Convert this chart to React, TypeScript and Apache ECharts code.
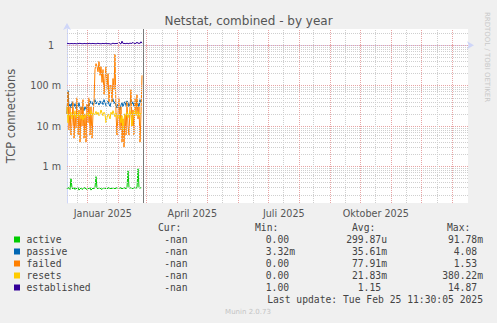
import React, { useEffect, useRef } from "react";
import * as echarts from "echarts";

// ---------- data ----------
const seriesNames = ["active", "passive", "failed", "resets", "established"];
const seriesColors = ["#00CC00", "#0066B3", "#FF8000", "#FFCC00", "#330099"];

const dataStart = Date.UTC(2024, 11, 11, 17, 0); // first daily sample
const DAY = 86400000;

const active = [
  0.00028, 0.0003, 0.00029, 0.00027, 0.0005, 0.00029, 0.00028, 0.0003, 0.00027, 0.00029,
  0.00028, 0.0003, 0.00026, 0.00028, 0.00029, 0.00027, 0.00028, 0.0003, 0.00029, 0.00028,
  0.00027, 0.00029, 0.00028, 0.0003, 0.00026, 0.00028, 0.00029, 0.00028, 0.0003, 0.00056,
  0.00029, 0.00028, 0.0003, 0.00029, 0.00028, 0.00027, 0.00029, 0.0003, 0.00028, 0.00029,
  0.00028, 0.00029, 0.0003, 0.00028, 0.00029, 0.00028, 0.0003, 0.00029, 0.00028, 0.00029,
  0.0003, 0.00029, 0.00028, 0.0003, 0.00029, 0.00028, 0.00029, 0.0003, 0.00029, 0.00028,
  0.0003, 0.00078, 0.0003, 0.00029, 0.0003, 0.00029, 0.00028, 0.0003, 0.00029, 0.0003,
  0.00029, 0.00088, 0.0003, 0.00029, 0.0003, 0.0003,
];
const passive = [
  0.02, 0.075, 0.03, 0.035, 0.028, 0.04, 0.032, 0.03, 0.036, 0.027,
  0.033, 0.03, 0.038, 0.028, 0.025, 0.03, 0.027, 0.024, 0.03, 0.026,
  0.028, 0.035, 0.03, 0.042, 0.036, 0.04, 0.033, 0.038, 0.045, 0.035,
  0.04, 0.038, 0.033, 0.042, 0.036, 0.04, 0.034, 0.045, 0.038, 0.032,
  0.036, 0.042, 0.035, 0.03, 0.038, 0.04, 0.046, 0.036, 0.04, 0.032,
  0.028, 0.035, 0.03, 0.025, 0.033, 0.038, 0.03, 0.036, 0.04, 0.032,
  0.042, 0.038, 0.03, 0.036, 0.045, 0.035, 0.04, 0.03, 0.038, 0.034,
  0.042, 0.036, 0.03, 0.045, 0.038, 0.04,
];
const failed = [
  0.02, 0.07, 0.008, 0.03, 0.006, 0.012, 0.04, 0.005, 0.02, 0.009,
  0.05, 0.006, 0.025, 0.004, 0.03, 0.01, 0.045, 0.005, 0.02, 0.004,
  0.035, 0.012, 0.05, 0.006, 0.03, 0.005, 0.02, 0.04, 0.25, 0.35,
  0.3, 0.22, 0.4, 0.18, 0.3, 0.12, 0.25, 0.06, 0.15, 0.3,
  0.08, 0.2, 0.04, 0.1, 0.1, 0.04, 0.15, 0.08, 0.6, 0.02,
  0.006, 0.02, 0.05, 0.008, 0.03, 0.004, 0.015, 0.003, 0.02, 0.006,
  0.04, 0.01, 0.006, 0.03, 0.08, 0.01, 0.025, 0.006, 0.05, 0.02,
  0.06, 0.015, 0.03, 0.004, 0.02, 0.18,
];
const resets = [
  0.03, 0.012, 0.02, 0.018, 0.022, 0.015, 0.02, 0.018, 0.024, 0.016,
  0.02, 0.017, 0.022, 0.018, 0.015, 0.02, 0.014, 0.018, 0.016, 0.02,
  0.018, 0.022, 0.017, 0.02, 0.024, 0.018, 0.021, 0.019, 0.02, 0.023,
  0.019, 0.022, 0.018, 0.02, 0.025, 0.021, 0.018, 0.022, 0.02, 0.012,
  0.016, 0.02, 0.018, 0.015, 0.022, 0.019, 0.024, 0.02, 0.017, 0.021,
  0.019, 0.015, 0.02, 0.016, 0.012, 0.018, 0.008, 0.015, 0.02, 0.018,
  0.022, 0.016, 0.02, 0.024, 0.018, 0.01, 0.022, 0.02, 0.025, 0.018,
  0.02, 0.023, 0.017, 0.021, 0.019, 0.02,
];
const established = [
  1.1, 1.12, 1.08, 1.1, 1.09, 1.11, 1.08, 1.1, 1.1, 1.09,
  1.08, 1.1, 1.1, 1.12, 1.09, 1.1, 1.08, 1.11, 1.1, 1.09,
  1.1, 1.08, 1.12, 1.1, 1.09, 1.1, 1.11, 1.09, 1.1, 1.08,
  1.1, 1.12, 1.09, 1.1, 1.08, 1.1, 1.11, 1.09, 1.1, 1.12,
  1.1, 1.09, 1.1, 1.08, 1.06, 1.1, 1.12, 1.1, 1.09, 1.11,
  1.1, 1.12, 1.2, 1.1, 1.08, 1.26, 1.1, 1.12, 1.09, 1.1,
  1.12, 1.1, 1.09, 1.14, 1.1, 1.12, 1.18, 1.1, 1.12, 1.1,
  1.2, 1.1, 1.14, 1.1, 1.22, 1.12,
];
const seriesValues = [active, passive, failed, resets, established];

// legend statistics
const curValues = ["-nan", "-nan", "-nan", "-nan", "-nan"];
const minValues = ["0.00", "3.32m", "0.00", "0.00", "1.00"];
const avgValues = ["299.87u", "35.61m", "77.91m", "21.83m", "1.15"];
const maxValues = ["91.78m", "4.08", "1.53", "380.22m", "14.87"];
const statHeaders = ["Cur:", "Min:", "Avg:", "Max:"];
const lastUpdate = "Last update: Tue Feb 25 11:30:05 2025";

// axes
const xMin = Date.UTC(2024, 11, 11, 17, 0);
const xMax = Date.UTC(2026, 0, 16, 17, 0);
const nowTime = Date.UTC(2025, 1, 25, 11, 30);
const xLabelDates = [Date.UTC(2025, 0, 16, 12), Date.UTC(2025, 3, 16), Date.UTC(2025, 6, 16, 12), Date.UTC(2025, 9, 16, 12)];
const monthNames = ["Januar", "Februar", "März", "April", "Mai", "Juni", "Juli", "August", "September", "Oktober", "November", "Dezember"];
const majorX = [
  Date.UTC(2025, 0, 1), Date.UTC(2025, 1, 1), Date.UTC(2025, 2, 1), Date.UTC(2025, 3, 1),
  Date.UTC(2025, 4, 1), Date.UTC(2025, 5, 1), Date.UTC(2025, 6, 1), Date.UTC(2025, 7, 1),
  Date.UTC(2025, 8, 1), Date.UTC(2025, 9, 1), Date.UTC(2025, 10, 1), Date.UTC(2025, 11, 1),
  Date.UTC(2026, 0, 1),
];
const minorX = [
  Date.UTC(2024, 11, 22), Date.UTC(2025, 0, 20), Date.UTC(2025, 1, 17), Date.UTC(2025, 2, 17),
  Date.UTC(2025, 3, 14), Date.UTC(2025, 4, 16), Date.UTC(2025, 5, 16), Date.UTC(2025, 6, 16),
  Date.UTC(2025, 7, 15), Date.UTC(2025, 8, 16), Date.UTC(2025, 9, 16), Date.UTC(2025, 10, 16),
  Date.UTC(2025, 11, 17),
];
const yTickValues = [0.001, 0.01, 0.1, 1];
const yTickLabels = ["1 m", "10 m", "100 m", "1"];
const yMinValue = 0.0001247;
const yMaxValue = 2.52;

const FONT = "DejaVu Sans";
const MONO = "DejaVu Sans Mono";
const TXT = "#555555";

export default function App() {
  const ref = useRef<HTMLDivElement>(null);
  useEffect(() => {
    const chart = echarts.init(ref.current!, null, { renderer: "svg" });
    const lg = Math.log10;

    const hLines: any[] = [];
    for (let n = -4; n <= 0; n++) {
      for (let k = 1; k <= 9; k++) {
        const v = k * Math.pow(10, n);
        if (v < yMinValue || v > yMaxValue) continue;
        const major = k === 1;
        hLines.push({
          yAxis: lg(v),
          lineStyle: major
            ? { color: "#e8a4a4", type: [1, 1], width: 1 }
            : { color: "#cfcfcf", type: [1, 1], width: 1 },
        });
      }
    }
    const vLines: any[] = [
      ...minorX.map((t) => ({ xAxis: t, lineStyle: { color: "#cfcfcf", type: [1, 1], width: 1 } })),
      ...majorX.map((t) => ({ xAxis: t, lineStyle: { color: "#e8a4a4", type: [1, 1], width: 1 } })),
    ];

    const dataSeries = seriesNames.map((name, si) => ({
      name,
      type: "line",
      showSymbol: false,
      symbol: "none",
      z: 3,
      lineStyle: { color: seriesColors[si], width: 1 },
      itemStyle: { color: seriesColors[si] },
      data: seriesValues[si].map((v, i) => [dataStart + i * DAY, lg(v)]),
    }));

    const colRights = [187.5, 295, 387, 483];
    const charW = 5.9;
    const rowY = (i: number) => 239.5 + 12 * i;
    const graphics: any[] = [];
    const headerX = [158, 255, 352, 447];
    statHeaders.forEach((h, i) =>
      graphics.push({ type: "text", x: headerX[i], y: 227, style: { text: h, font: `9.7px '${MONO}'`, fill: "#444", verticalAlign: "middle" } })
    );
    const rightText = (s: string, col: number, y: number) => {
      const hasUnit = /[a-zA-Z]$/.test(s) && s !== "-nan";
      const xr = col === 0 ? colRights[0] : colRights[col] - (hasUnit ? 0 : charW);
      graphics.push({
        type: "text",
        x: xr,
        y,
        style: { text: s, font: `9.7px '${MONO}'`, fill: "#444", align: "right", verticalAlign: "middle" },
      });
    };
    seriesNames.forEach((name, i) => {
      const y = rowY(i);
      graphics.push({ type: "rect", shape: { x: 14, y: y - 3, width: 6, height: 6 }, style: { fill: seriesColors[i] } });
      graphics.push({ type: "text", x: 26.5, y, style: { text: name, font: `9.7px '${MONO}'`, fill: "#444", verticalAlign: "middle" } });
      rightText(curValues[i], 0, y);
      rightText(minValues[i], 1, y);
      rightText(avgValues[i], 2, y);
      rightText(maxValues[i], 3, y);
    });
    graphics.push({
      type: "text",
      x: 483,
      y: 299.5,
      style: { text: lastUpdate, font: `9.7px '${MONO}'`, fill: "#444", align: "right", verticalAlign: "middle" },
    });
    graphics.push({
      type: "text",
      x: 248,
      y: 312,
      style: { text: "Munin 2.0.73", font: `7px '${FONT}'`, fill: "#c4c4c4", align: "center", verticalAlign: "middle" },
    });
    graphics.push({
      type: "text",
      x: 487,
      y: 57,
      rotation: -Math.PI / 2,
      style: { text: "RRDTOOL / TOBI OETIKER", font: `7px '${FONT}'`, fill: "#c8c8c8", align: "center", verticalAlign: "middle" },
    });

    const option: any = {
      animation: false,
      backgroundColor: "#F0F0F0",
      title: {
        text: "Netstat, combined - by year",
        left: "center",
        top: 10,
        textStyle: { fontFamily: FONT, fontSize: 12, fontWeight: "normal", color: TXT },
      },
      grid: {
        left: 67,
        right: 29,
        top: 29,
        bottom: 120,
        backgroundColor: "#ffffff",
        show: true,
        borderWidth: 0,
        containLabel: false,
        outerBoundsMode: "none",
      },
      xAxis: {
        type: "value",
        min: xMin,
        max: xMax,
        axisLine: { show: true, lineStyle: { color: "#CFD6F8", width: 1 }, symbol: ["none", "arrow"], symbolSize: [6, 7], symbolOffset: [0, 6] },
        axisTick: { show: true, customValues: majorX, length: 2, lineStyle: { color: "#e8a4a4" } },
        splitLine: { show: false },
        minorTick: { show: false },
        axisLabel: {
          customValues: xLabelDates,
          formatter: (v: number) => {
            const d = new Date(v);
            return monthNames[d.getUTCMonth()] + " " + d.getUTCFullYear();
          },
          fontFamily: FONT,
          fontSize: 9.6,
          color: TXT,
          margin: 5,
          showMinLabel: true,
          showMaxLabel: true,
        },
      },
      yAxis: {
        type: "value",
        min: lg(yMinValue),
        max: lg(yMaxValue),
        name: "TCP connections",
        nameLocation: "middle",
        nameGap: 50,
        nameTextStyle: { fontFamily: FONT, fontSize: 11.5, color: TXT },
        axisLine: { show: true, lineStyle: { color: "#CFD6F8", width: 1 }, symbol: ["none", "arrow"], symbolSize: [6, 7], symbolOffset: [0, 6] },
        axisTick: { show: false },
        splitLine: { show: false },
        axisLabel: {
          customValues: yTickValues.map((v) => lg(v)),
          formatter: (v: number) => {
            const idx = yTickValues.findIndex((t) => Math.abs(lg(t) - v) < 1e-6);
            const s = idx >= 0 ? yTickLabels[idx] : "";
            return s === "1" ? "{p|1}" : s;
          },
          rich: { p: { fontFamily: FONT, fontSize: 9.6, color: TXT, padding: [0, 7, 0, 0] } },
          fontFamily: FONT,
          fontSize: 9.6,
          color: TXT,
          margin: 6,
        },
      },
      series: [
        {
          name: "grid",
          type: "line",
          data: [],
          z: 1,
          silent: true,
          markLine: {
            silent: true,
            symbol: "none",
            label: { show: false },
            emphasis: { disabled: true },
            data: [...hLines, ...vLines],
          },
        },
        ...dataSeries,
        {
          name: "now",
          type: "line",
          data: [],
          z: 10,
          silent: true,
          markLine: {
            silent: true,
            symbol: "none",
            label: { show: false },
            z: 10,
            data: [{ xAxis: nowTime, lineStyle: { color: "#7a7a7a", type: "solid", width: 1 } }],
          },
        },
      ],
      graphic: graphics,
    };
    chart.setOption(option);
    return () => chart.dispose();
  }, []);
  return <div ref={ref} style={{ width: 497, height: 323, position: "absolute", left: 0, top: 0 }} />;
}
